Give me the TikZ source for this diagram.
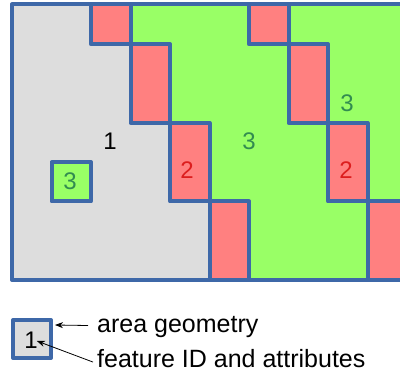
\documentclass[tikz,border=0pt]{standalone}
\usepackage{fontspec}
\setmainfont{Liberation Sans}
\usetikzlibrary{arrows.meta}
\definecolor{edgeblue}{RGB}{62,104,168}
\definecolor{cellgreen}{RGB}{153,255,102}
\definecolor{cellred}{RGB}{255,128,128}
\definecolor{areagray}{RGB}{221,221,221}
\definecolor{txtgreen}{RGB}{50,140,80}
\definecolor{txtred}{RGB}{220,30,30}
\begin{document}
\begin{tikzpicture}[x=1pt,y=-1pt,
  edge/.style={draw=edgeblue,line width=4pt,line join=round},
  redcell/.style={edge,fill=cellred},
  lab/.style={font=\fontsize{24}{28}\selectfont,inner sep=0pt},
  legtext/.style={font=\fontsize{25}{30}\selectfont,inner sep=0pt,anchor=base west},
  arr/.style={-{Stealth[length=8pt,width=6pt]},line width=0.8pt,black}]
\useasboundingbox (0,0) rectangle (400,374);
\begin{scope}
\clip (0,0) rectangle (400,374);
% background green
\fill[cellgreen] (12,4.5) rectangle (407,280);
% gray area 1
\fill[areagray] (12,4.5) -- (91,4.5) -- (91,44.3) -- (130.5,44.3) -- (130.5,123) -- (170,123)
  -- (170,201.5) -- (209.5,201.5) -- (209.5,280) -- (12,280) -- cycle;
% red cells, left staircase
\path[redcell] (91,4.5) rectangle (130.5,44.3);
\path[redcell] (130.5,44.3) rectangle (170,123);
\path[redcell] (170,123) rectangle (209.5,201.5);
\path[redcell] (209.5,201.5) rectangle (249,280);
% red cells, right staircase
\path[redcell] (249,4.5) rectangle (288.5,44.3);
\path[redcell] (288.5,44.3) rectangle (328,123);
\path[redcell] (328,123) rectangle (367.5,201.5);
\path[redcell] (367.5,201.5) rectangle (407,280);
% small green square
\path[edge,fill=cellgreen] (51.5,162.2) rectangle (91,201.5);
% outer frame
\draw[edge] (12,4.5) rectangle (407,280);
\end{scope}
% labels
\node[lab,text=black] (l1) at (110,141) {1};
\node[lab,text=txtgreen] (l3a) at (249,141) {3};
\node[lab,text=txtred] (l2a) at (187,170) {2};
\node[lab,text=txtgreen] (l3b) at (347,103) {3};
\node[lab,text=txtred] (l2b) at (346,170) {2};
\node[lab,text=txtgreen] (l3c) at (70,181) {3};
% legend
\node[edge,fill=areagray,minimum size=38pt,inner sep=0pt] (leg) at (32,339) {};
\node[lab,text=black] (legone) at (31,340) {1};
\node[legtext] (t1) at (97,333) {area geometry};
\node[legtext] (t2) at (97,368) {feature ID and attributes};
\draw[arr] ([xshift=-9pt,yshift=2pt]t1.west) -- ([xshift=2pt,yshift=14pt]leg.east);
\draw[arr] ([xshift=-4pt,yshift=-3pt]t2.west) -- ([xshift=-1pt,yshift=-1pt]legone.east);
\end{tikzpicture}
\end{document}
